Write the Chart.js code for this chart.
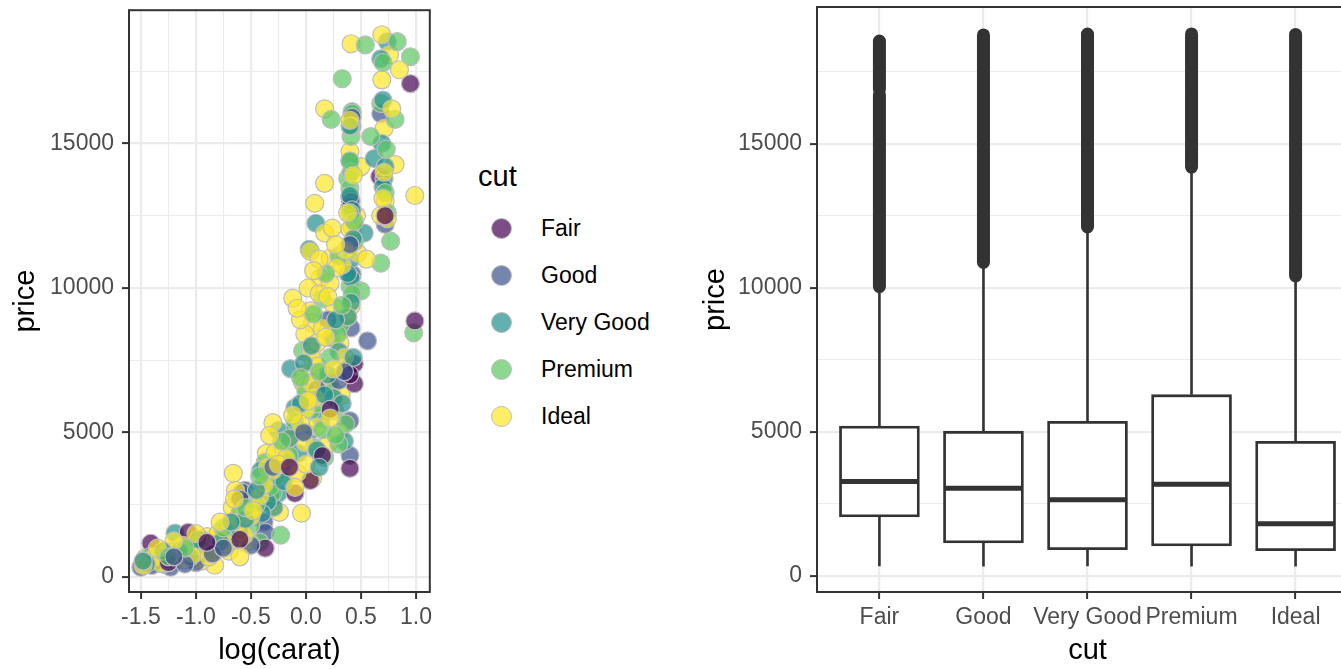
<!DOCTYPE html>
<html lang="en">
<head>
<meta charset="UTF-8">
<title>diamonds: price by log(carat) and cut</title>
<script src="https://cdn.jsdelivr.net/npm/chart.js@4.4.1/dist/chart.umd.min.js"></script>
<style>
    * { margin: 0; padding: 0; box-sizing: border-box; }
    html, body {
        width: 1341px;
        height: 669px;
        overflow: hidden;
        background: #fff;
        font-family: 'Liberation Sans', Arial, sans-serif;
    }
    #scatter { position: absolute; left: 0; top: 0; }
    #boxes { position: absolute; left: 690px; top: 0; }
    .legend-title {
        position: absolute;
        left: 478px;
        top: 162px;
        font-size: 29px;
        line-height: 1;
        color: #000;
    }
    .key {
        position: absolute;
        width: 21px;
        height: 21px;
        border-radius: 50%;
        border: 1.2px solid #bdbdbd;
    }
    .key-label {
        position: absolute;
        left: 541px;
        font-size: 23px;
        line-height: 1;
        color: #000;
        white-space: nowrap;
    }
</style>
</head>
<body>
<canvas id="scatter" width="440" height="669"></canvas>
<div id="legend"></div>
<canvas id="boxes" width="676" height="669"></canvas>

<script>
// ---- data ----
const cuts = ['Fair', 'Good', 'Very Good', 'Premium', 'Ideal'];
const cutColors = ['#440154', '#3B528B', '#21908C', '#5DC863', '#FDE725'];

// sampled diamonds, [log(carat), price]
const fairPts = [
    [0.95, 17070], [0.67, 13860], [0.40, 13100], [0.40, 12830], [0.99, 8860],
    [0.44, 7380], [0.44, 6690], [0.40, 3760], [0.04, 3340], [-0.10, 2900],
    [-0.37, 1000], [-1.41, 1170], [-1.07, 1550], [0.40, 7000], [0.15, 4200],
    [0.72, 12500], [-0.60, 1300], [-1.25, 500], [0.22, 5800], [-0.15, 3800],
    [-0.90, 1200]
];
const goodPts = [
    [0.68, 16030], [0.42, 10480], [0.41, 8620], [0.56, 8170], [0.40, 5410],
    [0.40, 4210], [-0.55, 3000], [-0.58, 2930], [-0.38, 1900], [-0.37, 1550],
    [-1.50, 340], [-1.23, 340], [0.72, 12200], [0.41, 13000], [0.30, 6800],
    [0.10, 6500], [-0.20, 4000], [-0.60, 2700], [-1.00, 500], [-1.40, 400],
    [-0.50, 1100], [0.20, 8900], [0.42, 15900], [-0.85, 800], [-1.10, 450],
    [0.40, 11500], [0.35, 7100], [-0.02, 5000], [-0.30, 3800], [-0.75, 1000],
    [-1.20, 700]
];
const vgPts = [
    [0.74, 18520], [0.68, 17930], [0.42, 16100], [0.69, 15000], [0.62, 14480],
    [0.40, 14380], [0.71, 13790], [0.09, 12240], [0.53, 11900], [0.03, 11340],
    [0.41, 11000], [0.41, 10340], [0.23, 8280], [-0.14, 7210], [0.38, 7240],
    [-0.10, 5860], [0.14, 5480], [-0.25, 5070], [-0.10, 5240], [0.02, 4970],
    [-0.07, 4280], [-0.41, 3690], [-0.33, 3410], [-0.25, 2900], [-0.35, 3240],
    [-0.32, 2830], [-0.29, 2410], [-0.71, 1380], [-1.34, 690], [-1.19, 1520],
    [0.72, 14200], [0.70, 13500], [0.40, 13200], [0.42, 12700], [0.38, 10500],
    [0.41, 9500], [0.30, 7800], [0.20, 7000], [0.25, 6200], [-0.05, 6000],
    [0.10, 4400], [-0.35, 2600], [-0.40, 2200], [-0.60, 1600], [-0.90, 1000],
    [-1.05, 700], [-1.25, 600], [-1.45, 450], [0.43, 7600], [0.33, 6000],
    [0.35, 4700], [-0.20, 3300], [-0.78, 1200], [-1.15, 900], [0.40, 15600],
    [0.43, 11700], [0.38, 9000], [0.27, 8900], [0.05, 8000], [-0.02, 7400],
    [0.17, 6300], [-0.15, 4800], [0.12, 3800], [-0.45, 3000], [-0.55, 2000],
    [-0.68, 1900], [-0.98, 1300], [-1.30, 900], [-1.48, 550], [0.70, 16500]
];
const premiumPts = [
    [0.54, 18410], [0.95, 18000], [0.83, 18520], [0.33, 17240], [0.23, 15830],
    [0.68, 16380], [0.81, 15830], [0.41, 15240], [0.59, 15240], [0.38, 13790],
    [0.40, 13450], [0.77, 11620], [0.68, 10860], [0.40, 10070], [0.50, 9900],
    [0.15, 9620], [0.98, 8450], [0.32, 8760], [-0.03, 7830], [0.20, 6690],
    [0.23, 6520], [0.26, 5760], [0.05, 5760], [0.08, 4480], [0.17, 4140],
    [-0.37, 3970], [-0.42, 1210], [-0.23, 1450], [-0.91, 760], [-1.09, 760],
    [-1.47, 590], [-1.01, 690], [0.42, 16050], [0.41, 14000], [0.44, 11600],
    [0.42, 9800], [0.29, 8400], [0.10, 6000], [0.00, 6400], [-0.10, 5400],
    [0.15, 5100], [-0.20, 3500], [-0.30, 2900], [-0.50, 1800], [-0.65, 1500],
    [-0.80, 1100], [-1.20, 900], [-1.35, 600], [0.74, 12600], [0.72, 13300],
    [0.40, 12600], [-1.42, 700], [-1.30, 450], [-1.15, 800], [-1.00, 1100],
    [-0.85, 900], [-0.70, 1200], [-0.60, 2200], [-0.45, 2500], [-0.33, 3100],
    [-0.27, 3500], [-0.15, 4200], [0.30, 4600], [0.36, 5300], [0.42, 15600],
    [0.40, 14400], [0.44, 12300], [0.30, 11100], [0.18, 10500], [0.07, 9100],
    [0.33, 9400], [0.22, 7600], [0.12, 7100], [-0.05, 6900], [0.27, 4900],
    [-0.22, 4700], [-0.42, 3500], [-0.55, 2400], [-0.75, 1700], [-0.95, 1300],
    [-1.10, 1000], [-1.25, 700], [0.70, 17800], [0.73, 14800]
];
const idealPts = [
    [0.41, 18450], [0.69, 18760], [0.76, 18070], [0.85, 17550], [0.69, 17200],
    [0.17, 16200], [0.71, 15520], [0.40, 14720], [0.50, 14200], [0.81, 14270],
    [0.17, 13620], [0.99, 13200], [0.08, 12930], [0.46, 12500], [0.42, 12100],
    [0.17, 11900], [0.24, 12070], [0.40, 12030], [0.04, 11270], [0.22, 11030],
    [0.47, 11200], [0.13, 10340], [0.02, 10000], [-0.12, 9650], [0.22, 10170],
    [0.26, 9310], [0.41, 9380], [0.04, 9210], [0.06, 8790], [-0.01, 8410],
    [0.31, 8100], [0.06, 7550], [-0.01, 7030], [-0.03, 6720], [-0.01, 6620],
    [0.32, 6280], [0.05, 7800], [0.10, 7300], [0.15, 6900], [-0.30, 5340],
    [-0.01, 4650], [-0.36, 4280], [0.06, 3410], [-0.66, 3590], [-0.64, 3000],
    [-0.67, 2410], [-0.24, 2240], [-0.04, 2210], [-0.58, 1860], [-0.60, 1380],
    [-0.98, 1000], [-0.85, 1210], [-1.24, 760], [-1.46, 660], [-0.83, 410],
    [-0.20, 4500], [-0.15, 4800], [0.10, 5200], [0.20, 4600], [-0.35, 3800],
    [-0.45, 2600], [-0.70, 1700], [-0.75, 1300], [-0.90, 1400], [-1.05, 1200],
    [-1.15, 1000], [-1.30, 800], [-1.40, 500], [-1.10, 600], [-0.95, 550],
    [-0.70, 900], [-0.55, 1200], [0.00, 5800], [0.08, 6200], [0.30, 5000],
    [0.35, 7600], [-0.05, 8900], [0.12, 9800], [0.38, 9000], [0.72, 13000],
    [0.74, 12400], [0.55, 11000], [0.33, 10800], [0.70, 13100], [0.68, 12500],
    [-1.44, 520], [-1.38, 700], [-1.32, 480], [-1.27, 900], [-1.18, 650],
    [-1.12, 1100], [-1.02, 800], [-0.94, 1250], [-0.88, 700], [-0.80, 1500],
    [-0.72, 1150], [-0.62, 1900], [-0.56, 1450], [-0.50, 2100], [-0.42, 2800],
    [-0.38, 3200], [-0.30, 3700], [-0.28, 4300], [-0.18, 4100], [-0.08, 3600],
    [0.00, 3900], [-0.05, 5300], [0.05, 6700], [0.10, 8100], [0.15, 8600],
    [0.20, 9700], [0.28, 10700], [0.36, 11300], [0.40, 15800], [0.43, 13900],
    [0.38, 12600], [0.27, 11500], [0.12, 11000], [0.07, 10600], [-0.08, 9300],
    [0.18, 8300], [0.25, 7200], [0.02, 6100], [-0.12, 5600], [0.22, 5500],
    [-0.33, 4900], [-0.25, 3900], [-0.10, 3100], [-0.48, 2300], [-0.65, 2700],
    [-0.78, 1900], [-1.00, 1500], [-1.20, 1250], [-1.35, 1000], [-1.48, 400],
    [-0.60, 700], [0.71, 14000], [0.78, 16200]
];

// boxplot statistics for price by cut
const lowerWhisker = [337, 327, 336, 326, 326];
const q1 = [2050, 1145, 912, 1046, 878];
const median = [3282, 3050, 2648, 3185, 1810];
const q3 = [5206, 5028, 5373, 6296, 4678];
const upperWhisker = [9910, 10850, 12060, 14170, 10370];
// price ranges covered by the stacked outlier dots of each cut
const outlierRuns = [
    [[10050, 16700], [16900, 18574]],
    [[10890, 18788]],
    [[12120, 18818]],
    [[14200, 18823]],
    [[10420, 18806]]
];

// axis breaks
const caratBreaks = [-1.5, -1.0, -0.5, 0.0, 0.5, 1.0];
const caratMinor = [-1.25, -0.75, -0.25, 0.25, 0.75];
const priceBreaks = [0, 5000, 10000, 15000];
const priceMinor = [2500, 7500, 12500, 17500];

// ---- helpers ----
const FONT = "'Liberation Sans', Arial, sans-serif";
const tickFont = { family: FONT, size: 23 };
const titleFont = { family: FONT, size: 29 };

function withAlpha(hex, a) {
    const n = parseInt(hex.slice(1), 16);
    return 'rgba(' + (n >> 16) + ',' + ((n >> 8) & 255) + ',' + (n & 255) + ',' + a + ')';
}
const fills = cutColors.map(c => withAlpha(c, 0.7));

function gridFor(majors) {
    const isMajor = ctx => ctx.tick && majors.includes(ctx.tick.value);
    return {
        color: '#ebebeb',
        lineWidth: ctx => isMajor(ctx) ? 2.2 : 1.1,
        drawTicks: true,
        tickLength: 7,
        tickWidth: 2,
        tickColor: ctx => isMajor(ctx) ? '#333333' : 'rgba(0,0,0,0)'
    };
}

function setTicks(values) {
    return axis => {
        axis.ticks = values.slice().sort((a, b) => a - b).map(v => ({ value: v }));
    };
}

// fixed axis boxes, and no extra room for edge labels
function fixWidth(w) {
    return s => { s.width = w; s.paddingTop = 0; s.paddingBottom = 0; };
}
function fixHeight(h) {
    return s => { s.height = h; s.paddingLeft = 0; s.paddingRight = 0; };
}

const panelBorder = {
    id: 'panelBorder',
    afterDatasetsDraw(chart) {
        const { ctx, chartArea: a } = chart;
        ctx.save();
        ctx.strokeStyle = '#333333';
        ctx.lineWidth = 2;
        ctx.strokeRect(a.left, a.top, a.right - a.left, a.bottom - a.top);
        ctx.restore();
    }
};

function priceAxis(yWidth, min, max) {
    return {
        type: 'linear',
        min: min,
        max: max,
        afterBuildTicks: setTicks(priceBreaks.concat(priceMinor)),
        afterFit: fixWidth(yWidth),
        grid: gridFor(priceBreaks),
        border: { display: false },
        ticks: {
            autoSkip: false,
            font: tickFont,
            color: '#4d4d4d',
            padding: 8,
            callback: v => priceBreaks.includes(v) ? String(v) : ''
        },
        title: { display: true, text: 'price', font: titleFont, color: '#000', padding: { top: 9, bottom: 0 } }
    };
}

// ---- left: scatter ----
// spread the cuts evenly through the drawing order
const ptsByCut = [fairPts, goodPts, vgPts, premiumPts, idealPts];
const scatterData = [];
ptsByCut.forEach((arr, c) => {
    arr.forEach((p, i) => scatterData.push({ x: p[0], y: p[1], c: c, k: (i + 0.5) / arr.length + c * 0.001 }));
});
scatterData.sort((a, b) => a.k - b.k);

new Chart(document.getElementById('scatter'), {
    type: 'scatter',
    data: {
        datasets: [{
            data: scatterData,
            pointRadius: 9,
            pointBorderWidth: 1.2,
            pointBorderColor: '#bdbdbd',
            pointBackgroundColor: ctx => ctx.raw ? fills[ctx.raw.c] : fills[4]
        }]
    },
    options: {
        responsive: false,
        animation: false,
        layout: { padding: { top: 7, right: 8, bottom: 0, left: 0 } },
        plugins: { legend: { display: false }, tooltip: { enabled: false } },
        scales: {
            x: {
                type: 'linear',
                min: -1.608,
                max: 1.126,
                afterBuildTicks: setTicks(caratBreaks.concat(caratMinor)),
                afterFit: fixHeight(77),
                grid: gridFor(caratBreaks),
                border: { display: false },
                ticks: {
                    autoSkip: false,
                    maxRotation: 0,
                    font: tickFont,
                    color: '#4d4d4d',
                    padding: 5,
                    callback: v => caratBreaks.includes(v) ? v.toFixed(1) : ''
                },
                title: { display: true, text: 'log(carat)', font: titleFont, color: '#000', padding: { top: 0, bottom: 1 } }
            },
            y: priceAxis(129, -516, 19610)
        }
    },
    plugins: [panelBorder]
});

// legend for the scatter
const legend = document.getElementById('legend');
const legendTitle = document.createElement('div');
legendTitle.className = 'legend-title';
legendTitle.textContent = 'cut';
legend.appendChild(legendTitle);
cuts.forEach((name, i) => {
    const cy = 228 + i * 47;
    const key = document.createElement('div');
    key.className = 'key';
    key.style.left = '490.5px';
    key.style.top = (cy - 10.5) + 'px';
    key.style.background = fills[i];
    legend.appendChild(key);
    const label = document.createElement('div');
    label.className = 'key-label';
    label.style.top = (cy - 11.5) + 'px';
    label.textContent = name;
    legend.appendChild(label);
});

// ---- right: boxplot ----
const halfBox = 0.375;
const whiskerData = [], medianData = [], outlierData = [], boxData = [];
cuts.forEach((name, i) => {
    const x = i + 1;
    whiskerData.push({ x: x, y: lowerWhisker[i] }, { x: x, y: q1[i] }, { x: x, y: null },
                     { x: x, y: q3[i] }, { x: x, y: upperWhisker[i] }, { x: x, y: null });
    medianData.push({ x: x - halfBox, y: median[i] }, { x: x + halfBox, y: median[i] }, { x: x, y: null });
    outlierRuns[i].forEach(r => outlierData.push({ x: x, y: r[0] }, { x: x, y: r[1] }, { x: x, y: null }));
    boxData.push({ x: x, y: [q1[i], q3[i]] });
});

const cutPositions = cuts.map((c, i) => i + 1);

new Chart(document.getElementById('boxes'), {
    type: 'line',
    data: {
        datasets: [
            {
                type: 'line', order: 0, data: medianData,
                borderColor: '#333333', borderWidth: 5, borderCapStyle: 'butt',
                pointRadius: 0, spanGaps: false, tension: 0
            },
            {
                type: 'bar', order: 1, data: boxData,
                backgroundColor: '#ffffff', borderColor: '#333333', borderWidth: 2.8,
                borderSkipped: false, barThickness: 80, grouped: false
            },
            {
                type: 'line', order: 2, data: whiskerData,
                borderColor: '#333333', borderWidth: 2.6, borderCapStyle: 'butt',
                pointRadius: 0, spanGaps: false, tension: 0
            },
            {
                type: 'line', order: 3, data: outlierData,
                borderColor: '#333333', borderWidth: 13, borderCapStyle: 'round',
                pointRadius: 0, spanGaps: false, tension: 0
            }
        ]
    },
    options: {
        responsive: false,
        animation: false,
        layout: { padding: { top: 7, right: 8, bottom: 0, left: 0 } },
        plugins: { legend: { display: false }, tooltip: { enabled: false } },
        scales: {
            x: {
                type: 'linear',
                min: 0.4,
                max: 5.6,
                offset: false,
                afterBuildTicks: setTicks(cutPositions),
                afterFit: fixHeight(77),
                grid: Object.assign(gridFor(cutPositions), { offset: false }),
                border: { display: false },
                ticks: {
                    autoSkip: false,
                    maxRotation: 0,
                    minRotation: 0,
                    font: tickFont,
                    color: '#4d4d4d',
                    padding: 5,
                    callback: v => cuts[v - 1] || ''
                },
                title: { display: true, text: 'cut', font: titleFont, color: '#000', padding: { top: 0, bottom: 1 } }
            },
            y: priceAxis(127, -556, 19757)
        }
    },
    plugins: [panelBorder]
});
</script>
</body>
</html>
